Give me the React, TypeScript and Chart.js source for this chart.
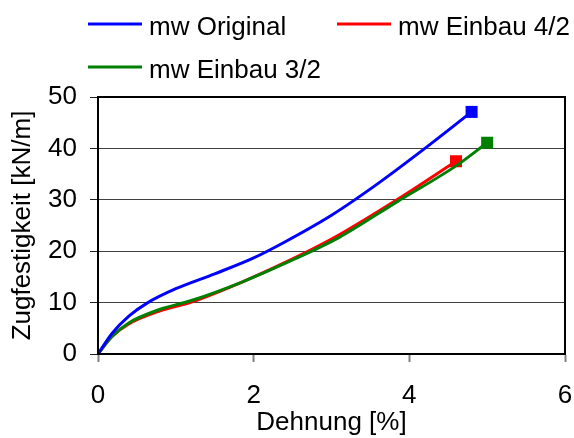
import React, { useEffect, useRef } from 'react';
import { Chart, registerables } from 'chart.js';

Chart.register(...registerables);

// ---- data ----
const originalX = [0, 0.18, 0.4, 0.63, 1.0, 1.5, 2.0, 2.4, 3.0, 3.6, 4.2, 4.8];
const originalY = [0, 4.0, 7.4, 9.9, 12.7, 15.6, 18.7, 21.8, 27.0, 33.2, 40.0, 47.1];

const einbau42X = [0, 0.18, 0.39, 0.8, 1.2, 1.85, 2.5, 3.1, 3.84, 4.6];
const einbau42Y = [0, 3.4, 5.8, 8.4, 10.1, 14.0, 18.5, 23.2, 30.0, 37.5];

const einbau32X = [0, 0.18, 0.39, 0.8, 1.2, 1.85, 2.5, 3.1, 3.84, 4.6, 5.0];
const einbau32Y = [0, 3.4, 6.0, 8.7, 10.4, 14.0, 18.3, 22.7, 29.6, 36.6, 41.1];

const seriesLabels = ['mw Original', 'mw Einbau 4/2', 'mw Einbau 3/2'];
const seriesColors = ['#0000FF', '#FF0000', '#008000'];
const seriesOrder = [0, 2, 1];

const xTicks = [0, 2, 4, 6];
const yTicks = [0, 10, 20, 30, 40, 50];

const xTitle = 'Dehnung [%]';
const yTitle = 'Zugfestigkeit [kN/m]';

const FONT = "'Liberation Sans', Arial, Helvetica, sans-serif";

function toPoints(xs: number[], ys: number[]) {
  return xs.map((x, i) => ({ x, y: ys[i] }));
}

function endMarker(n: number, r: number) {
  return Array.from({ length: n }, (_, i) => (i === n - 1 ? r : 0));
}

const legendPlugin = {
  id: 'customLegend',
  afterDraw(chart: any) {
    const ctx = chart.ctx;
    const slots = [
      { x: 88, y: 24, tb: 35 },
      { x: 337, y: 24, tb: 35 },
      { x: 88, y: 67, tb: 78 },
    ];
    ctx.save();
    ctx.font = `26px ${FONT}`;
    ctx.textBaseline = 'alphabetic';
    ctx.textAlign = 'left';
    seriesLabels.forEach((label, i) => {
      const s = slots[i];
      ctx.strokeStyle = seriesColors[i];
      ctx.lineWidth = 3;
      ctx.beginPath();
      ctx.moveTo(s.x, s.y);
      ctx.lineTo(s.x + 54, s.y);
      ctx.stroke();
      ctx.fillStyle = '#000';
      ctx.fillText(label, s.x + 61, s.tb);
    });
    ctx.restore();
  },
};

const framePlugin = {
  id: 'frame',
  afterDatasetsDraw(chart: any) {
    const { ctx, chartArea } = chart;
    ctx.save();
    ctx.strokeStyle = '#000';
    ctx.lineWidth = 2;
    ctx.strokeRect(chartArea.left, chartArea.top, chartArea.right - chartArea.left, chartArea.bottom - chartArea.top);
    ctx.restore();
  },
};

export default function App() {
  const ref = useRef<HTMLCanvasElement | null>(null);

  useEffect(() => {
    if (!ref.current) return;
    const xs = [originalX, einbau42X, einbau32X];
    const ys = [originalY, einbau42Y, einbau32Y];
    const chart = new Chart(ref.current, {
      type: 'scatter',
      data: {
        datasets: seriesLabels.map((label, i) => ({
          label,
          order: seriesOrder[i],
          data: toPoints(xs[i], ys[i]),
          showLine: true,
          borderColor: seriesColors[i],
          backgroundColor: seriesColors[i],
          borderWidth: 3,
          cubicInterpolationMode: 'monotone' as const,
          pointStyle: 'rect' as const,
          pointRadius: endMarker(xs[i].length, 8.5),
          pointHoverRadius: endMarker(xs[i].length, 8.5),
          pointBorderWidth: 0,
          pointBackgroundColor: seriesColors[i],
          clip: false as any,
        })),
      },
      options: {
        animation: false,
        responsive: false,
        devicePixelRatio: 1,
        layout: { padding: { top: 97, right: 9, left: 0, bottom: 0 } },
        plugins: {
          legend: { display: false },
          tooltip: { enabled: false },
        },
        scales: {
          x: {
            type: 'linear',
            min: 0,
            max: 6,
            afterBuildTicks: (s: any) => {
              s.ticks = xTicks.map((v) => ({ value: v }));
            },
            afterFit: (s: any) => {
              s.height = 84;
              s.paddingLeft = 0;
              s.paddingRight = 0;
            },
            grid: {
              drawOnChartArea: false,
              drawTicks: true,
              tickLength: 8,
              tickColor: '#808080',
              tickWidth: 2,
            },
            border: { display: true, color: '#000', width: 2 },
            ticks: {
              color: '#000',
              padding: 18,
              maxRotation: 0,
              font: { family: FONT, size: 26 },
            },
            title: {
              display: true,
              text: xTitle,
              color: '#000',
              padding: { top: 0, bottom: 0 },
              font: { family: FONT, size: 26 },
            },
          },
          y: {
            type: 'linear',
            min: 0,
            max: 50,
            afterBuildTicks: (s: any) => {
              s.ticks = yTicks.map((v) => ({ value: v }));
            },
            afterFit: (s: any) => {
              s.width = 98;
              s.paddingTop = 0;
              s.paddingBottom = 0;
            },
            grid: {
              drawOnChartArea: true,
              drawTicks: true,
              tickLength: 8,
              color: '#404040',
              lineWidth: 1,
              tickColor: '#202020',
              tickWidth: 1,
            },
            border: { display: true, color: '#000', width: 2 },
            ticks: {
              color: '#000',
              padding: 13,
              font: { family: FONT, size: 26 },
            },
            title: {
              display: true,
              text: yTitle,
              color: '#000',
              padding: { top: 7, bottom: 0 },
              font: { family: FONT, size: 26 },
            },
          },
        },
      },
      plugins: [legendPlugin, framePlugin],
    });
    return () => chart.destroy();
  }, []);

  return (
    <div style={{ position: 'fixed', left: 0, top: 0, width: 574, height: 438, background: '#fff' }}>
      <canvas ref={ref} width={574} height={438} style={{ display: 'block', width: 574, height: 438 }} />
    </div>
  );
}
